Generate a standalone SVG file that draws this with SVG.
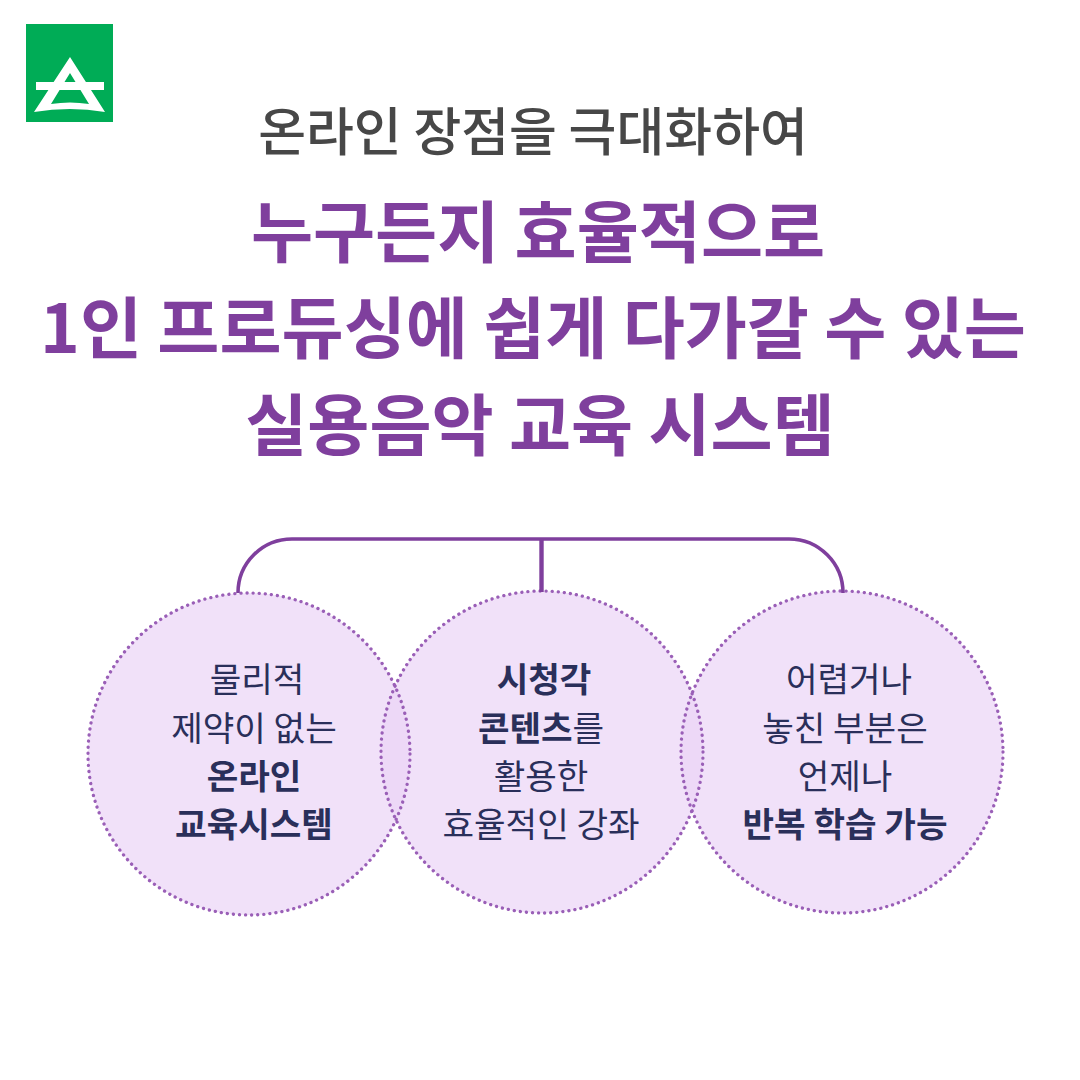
<svg xmlns="http://www.w3.org/2000/svg" width="1080" height="1080" viewBox="0 0 1080 1080">
<style>
text{font-family:"Noto Sans CJK KR","Noto Sans",sans-serif;text-anchor:middle}
.sub{font-size:52px;fill:#474747;font-weight:500}
.h{font-size:67.500px;fill:#7f3f9d;font-weight:700}
.c{font-size:34.300px;fill:#2a2f5a;font-weight:400}
.b{font-weight:700}
.disc{fill:#ebd4f6;fill-opacity:.7}
.ring{fill:none;stroke:#9a5fb7;stroke-width:3.300;stroke-dasharray:.1 6;stroke-linecap:round}
.conn{fill:none;stroke:#7f3f9d;stroke-width:3.600}
.stem{stroke-width:4.400}
</style>
<rect width="1080" height="1080" fill="#fff"/>
<g id="logo">
<rect x="26" y="24" width="87" height="98" fill="#00ac56"/>
<path fill="#fff" fill-rule="evenodd" d="M70 57L105 112Q70 106 34 112ZM70 73L51 104Q70 101 89 104Z"/>
<rect x="36" y="82" width="68" height="8" fill="#fff"/>
</g>
<g id="title">
<text class="sub" x="533" y="151">온라인 장점을 극대화하여</text>
<text class="h" x="538" y="257">누구든지 효율적으로</text>
<text class="h" x="533" y="353">1인 프로듀싱에 쉽게 다가갈 수 있는</text>
<text class="h" x="540" y="450">실용음악 교육 시스템</text>
</g>
<g id="node-1">
<circle class="disc" cx="249" cy="754" r="161"/>
<text class="c" x="257" y="692">물리적</text>
<text class="c" x="254" y="741">제약이 없는</text>
<text class="c b" x="254" y="789">온라인</text>
<text class="c b" x="254" y="837">교육시스템</text>
</g>
<g id="node-2">
<circle class="disc" cx="542" cy="752" r="161"/>
<text class="c b" x="544" y="692">시청각</text>
<text class="c" x="541" y="741"><tspan class="b">콘텐츠</tspan>를</text>
<text class="c" x="541" y="789">활용한</text>
<text class="c" x="541" y="837">효율적인 강좌</text>
</g>
<g id="node-3">
<circle class="disc" cx="842" cy="752" r="161"/>
<text class="c" x="849" y="692">어렵거나</text>
<text class="c" x="845" y="741">놓친 부분은</text>
<text class="c" x="845" y="789">언제나</text>
<text class="c b" x="845" y="837">반복 학습 가능</text>
</g>
<g id="outlines">
<circle class="ring" cx="249" cy="754" r="161"/>
<circle class="ring" cx="542" cy="752" r="161"/>
<circle class="ring" cx="842" cy="752" r="161"/>
</g>
<g id="connectors">
<path class="conn" d="M238 593A54 54 0 0 1 292 539H789A54 54 0 0 1 843 593"/>
<path class="conn stem" d="M541.500 539V592"/>
</g>
</svg>
